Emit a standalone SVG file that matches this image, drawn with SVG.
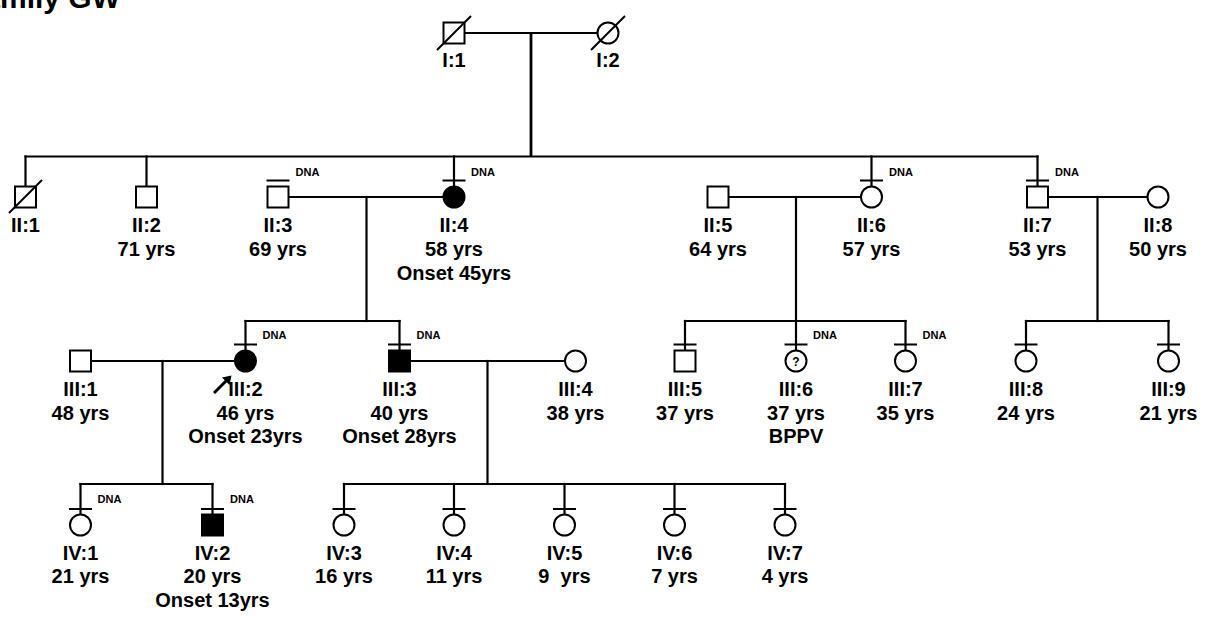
<svg xmlns="http://www.w3.org/2000/svg" width="1207" height="619" viewBox="0 0 1207 619">
<style>
  .ln { stroke:#000; stroke-width:2.2; fill:none; stroke-linecap:square; }
  .thick { stroke:#000; stroke-width:2.8; fill:none; }
  .sym { stroke:#000; stroke-width:2; fill:#fff; }
  .aff { stroke:#000; stroke-width:2; fill:#000; }
  .bar { stroke:#000; stroke-width:2; }
  .slash { stroke:#000; stroke-width:2; }
  .lbl { font-family:"Liberation Sans", Arial, sans-serif; font-weight:bold; font-size:20px; text-anchor:middle; fill:#000; white-space:pre; }
  .dna { font-family:"Liberation Sans", Arial, sans-serif; font-weight:bold; font-size:11px; fill:#000; }
  .q { font-family:"Liberation Sans", Arial, sans-serif; font-weight:bold; font-size:12px; text-anchor:middle; fill:#000; }
  .title { font-family:"Liberation Sans", Arial, sans-serif; font-weight:bold; font-size:30px; fill:#000; }
</style>
<rect width="1207" height="619" fill="#fff"/>
<text class="title" x="-35" y="8">Family GW</text>

<g id="connectors">
  <!-- Generation I -->
  <line class="ln" x1="466" y1="33" x2="597" y2="33"/>
  <line class="thick" x1="531" y1="33" x2="531" y2="156.5"/>
  <line class="ln" x1="25.5" y1="156.5" x2="1037.5" y2="156.5"/>
  <line class="ln" x1="25.5" y1="156.5" x2="25.5" y2="186"/>
  <line class="ln" x1="146.5" y1="156.5" x2="146.5" y2="186"/>
  <line class="ln" x1="454" y1="156.5" x2="454" y2="186"/>
  <line class="ln" x1="871.5" y1="156.5" x2="871.5" y2="186"/>
  <line class="ln" x1="1037.5" y1="156.5" x2="1037.5" y2="186"/>
  <!-- Generation II marriages -->
  <line class="ln" x1="289" y1="197" x2="442.5" y2="197"/>
  <line class="ln" x1="366.5" y1="197" x2="366.5" y2="321"/>
  <line class="ln" x1="245.5" y1="321" x2="399.5" y2="321"/>
  <line class="ln" x1="245.5" y1="321" x2="245.5" y2="350"/>
  <line class="ln" x1="399.5" y1="321" x2="399.5" y2="350"/>

  <line class="ln" x1="729" y1="197" x2="860" y2="197"/>
  <line class="ln" x1="796" y1="197" x2="796" y2="350"/>
  <line class="ln" x1="685" y1="321" x2="905.5" y2="321"/>
  <line class="ln" x1="685" y1="321" x2="685" y2="350"/>
  <line class="ln" x1="905.5" y1="321" x2="905.5" y2="350"/>

  <line class="ln" x1="1048" y1="197" x2="1147" y2="197"/>
  <line class="ln" x1="1097.5" y1="197" x2="1097.5" y2="321"/>
  <line class="ln" x1="1026" y1="321" x2="1168.5" y2="321"/>
  <line class="ln" x1="1026" y1="321" x2="1026" y2="350"/>
  <line class="ln" x1="1168.5" y1="321" x2="1168.5" y2="350"/>
  <!-- Generation III marriages -->
  <line class="ln" x1="91.5" y1="361" x2="234.5" y2="361"/>
  <line class="ln" x1="162.5" y1="361" x2="162.5" y2="484"/>
  <line class="ln" x1="80.5" y1="484" x2="212.5" y2="484"/>
  <line class="ln" x1="80.5" y1="484" x2="80.5" y2="514"/>
  <line class="ln" x1="212.5" y1="484" x2="212.5" y2="514"/>

  <line class="ln" x1="410.5" y1="361" x2="564.5" y2="361"/>
  <line class="ln" x1="487.5" y1="361" x2="487.5" y2="484"/>
  <line class="ln" x1="344" y1="484" x2="785" y2="484"/>
  <line class="ln" x1="344" y1="484" x2="344" y2="514"/>
  <line class="ln" x1="454" y1="484" x2="454" y2="514"/>
  <line class="ln" x1="564.5" y1="484" x2="564.5" y2="514"/>
  <line class="ln" x1="674.5" y1="484" x2="674.5" y2="514"/>
  <line class="ln" x1="785" y1="484" x2="785" y2="514"/>
</g>

<!-- Generation I -->
<g id="I-1">
  <rect class="sym" x="443.5" y="22.5" width="21" height="21"/>
  <line class="slash" x1="437" y1="50" x2="471" y2="16"/>
  <text class="lbl" x="454" y="67">I:1</text>
</g>
<g id="I-2">
  <circle class="sym" cx="608" cy="33" r="10.5"/>
  <line class="slash" x1="591" y1="50" x2="625" y2="16"/>
  <text class="lbl" x="608" y="67">I:2</text>
</g>

<!-- Generation II -->
<g id="II-1">
  <rect class="sym" x="15" y="186.5" width="21" height="21"/>
  <line class="slash" x1="9" y1="213" x2="42" y2="180"/>
  <text class="lbl" x="25.5" y="232">II:1</text>
</g>
<g id="II-2">
  <rect class="sym" x="136" y="186.5" width="21" height="21"/>
  <text class="lbl" x="146.5" y="232">II:2</text>
  <text class="lbl" x="146.5" y="256">71 yrs</text>
</g>
<g id="II-3">
  <rect class="sym" x="267.5" y="186.5" width="21" height="21"/>
  <line class="bar" x1="266.5" y1="180.5" x2="289.5" y2="180.5"/>
  <text class="dna" x="295.5" y="176">DNA</text>
  <text class="lbl" x="278" y="232">II:3</text>
  <text class="lbl" x="278" y="256">69 yrs</text>
</g>
<g id="II-4">
  <circle class="aff" cx="454" cy="197" r="10.5"/>
  <line class="bar" x1="442.5" y1="180.5" x2="465.5" y2="180.5"/>
  <text class="dna" x="471" y="176">DNA</text>
  <text class="lbl" x="454" y="232">II:4</text>
  <text class="lbl" x="454" y="256">58 yrs</text>
  <text class="lbl" x="454" y="279.5">Onset 45yrs</text>
</g>
<g id="II-5">
  <rect class="sym" x="707.5" y="186.5" width="21" height="21"/>
  <text class="lbl" x="718" y="232">II:5</text>
  <text class="lbl" x="718" y="256">64 yrs</text>
</g>
<g id="II-6">
  <circle class="sym" cx="871.5" cy="197" r="10.5"/>
  <line class="bar" x1="860" y1="180.5" x2="883" y2="180.5"/>
  <text class="dna" x="889" y="176">DNA</text>
  <text class="lbl" x="871.5" y="232">II:6</text>
  <text class="lbl" x="871.5" y="256">57 yrs</text>
</g>
<g id="II-7">
  <rect class="sym" x="1027" y="186.5" width="21" height="21"/>
  <line class="bar" x1="1026" y1="180.5" x2="1049" y2="180.5"/>
  <text class="dna" x="1055" y="176">DNA</text>
  <text class="lbl" x="1037.5" y="232">II:7</text>
  <text class="lbl" x="1037.5" y="256">53 yrs</text>
</g>
<g id="II-8">
  <circle class="sym" cx="1158" cy="197" r="10.5"/>
  <text class="lbl" x="1158" y="232">II:8</text>
  <text class="lbl" x="1158" y="256">50 yrs</text>
</g>

<!-- Generation III -->
<g id="III-1">
  <rect class="sym" x="70" y="350.5" width="21" height="21"/>
  <text class="lbl" x="80.5" y="396">III:1</text>
  <text class="lbl" x="80.5" y="419.5">48 yrs</text>
</g>
<g id="III-2">
  <circle class="aff" cx="245.5" cy="361" r="10.5"/>
  <line class="bar" x1="234" y1="344.5" x2="257" y2="344.5"/>
  <text class="dna" x="262.5" y="339">DNA</text>
  <line x1="214" y1="393" x2="226" y2="381" stroke="#000" stroke-width="3"/>
  <polygon points="231.5,375.5 229.5,385 222,377.5" fill="#000"/>
  <text class="lbl" x="245.5" y="396">III:2</text>
  <text class="lbl" x="245.5" y="419.5">46 yrs</text>
  <text class="lbl" x="245.5" y="443">Onset 23yrs</text>
</g>
<g id="III-3">
  <rect class="aff" x="389" y="350.5" width="21" height="21"/>
  <line class="bar" x1="388" y1="344.5" x2="411" y2="344.5"/>
  <text class="dna" x="416.5" y="339">DNA</text>
  <text class="lbl" x="399.5" y="396">III:3</text>
  <text class="lbl" x="399.5" y="419.5">40 yrs</text>
  <text class="lbl" x="399.5" y="443">Onset 28yrs</text>
</g>
<g id="III-4">
  <circle class="sym" cx="575.5" cy="361" r="10.5"/>
  <text class="lbl" x="575.5" y="396">III:4</text>
  <text class="lbl" x="575.5" y="419.5">38 yrs</text>
</g>
<g id="III-5">
  <rect class="sym" x="674.5" y="350.5" width="21" height="21"/>
  <line class="bar" x1="673.5" y1="344.5" x2="696.5" y2="344.5"/>
  <text class="lbl" x="685" y="396">III:5</text>
  <text class="lbl" x="685" y="419.5">37 yrs</text>
</g>
<g id="III-6">
  <circle class="sym" cx="796" cy="361" r="10.5"/>
  <line class="bar" x1="784.5" y1="344.5" x2="807.5" y2="344.5"/>
  <text class="q" x="796" y="365.5">?</text>
  <text class="dna" x="813" y="339">DNA</text>
  <text class="lbl" x="796" y="396">III:6</text>
  <text class="lbl" x="796" y="419.5">37 yrs</text>
  <text class="lbl" x="796" y="443">BPPV</text>
</g>
<g id="III-7">
  <circle class="sym" cx="905.5" cy="361" r="10.5"/>
  <line class="bar" x1="894" y1="344.5" x2="917" y2="344.5"/>
  <text class="dna" x="922.5" y="339">DNA</text>
  <text class="lbl" x="905.5" y="396">III:7</text>
  <text class="lbl" x="905.5" y="419.5">35 yrs</text>
</g>
<g id="III-8">
  <circle class="sym" cx="1026" cy="361" r="10.5"/>
  <line class="bar" x1="1014.5" y1="344.5" x2="1037.5" y2="344.5"/>
  <text class="lbl" x="1026" y="396">III:8</text>
  <text class="lbl" x="1026" y="419.5">24 yrs</text>
</g>
<g id="III-9">
  <circle class="sym" cx="1168.5" cy="361" r="10.5"/>
  <line class="bar" x1="1157" y1="344.5" x2="1180" y2="344.5"/>
  <text class="lbl" x="1168.5" y="396">III:9</text>
  <text class="lbl" x="1168.5" y="419.5">21 yrs</text>
</g>

<!-- Generation IV -->
<g id="IV-1">
  <circle class="sym" cx="80.5" cy="525" r="10.5"/>
  <line class="bar" x1="69" y1="509" x2="92" y2="509"/>
  <text class="dna" x="97.5" y="503">DNA</text>
  <text class="lbl" x="80.5" y="559.5">IV:1</text>
  <text class="lbl" x="80.5" y="583">21 yrs</text>
</g>
<g id="IV-2">
  <rect class="aff" x="202" y="514.5" width="21" height="21"/>
  <line class="bar" x1="201" y1="509" x2="224" y2="509"/>
  <text class="dna" x="230" y="503">DNA</text>
  <text class="lbl" x="212.5" y="559.5">IV:2</text>
  <text class="lbl" x="212.5" y="583">20 yrs</text>
  <text class="lbl" x="212.5" y="606.5">Onset 13yrs</text>
</g>
<g id="IV-3">
  <circle class="sym" cx="344" cy="525" r="10.5"/>
  <line class="bar" x1="332.5" y1="509" x2="355.5" y2="509"/>
  <text class="lbl" x="344" y="559.5">IV:3</text>
  <text class="lbl" x="344" y="583">16 yrs</text>
</g>
<g id="IV-4">
  <circle class="sym" cx="454" cy="525" r="10.5"/>
  <line class="bar" x1="442.5" y1="509" x2="465.5" y2="509"/>
  <text class="lbl" x="454" y="559.5">IV:4</text>
  <text class="lbl" x="454" y="583">11 yrs</text>
</g>
<g id="IV-5">
  <circle class="sym" cx="564.5" cy="525" r="10.5"/>
  <line class="bar" x1="553" y1="509" x2="576" y2="509"/>
  <text class="lbl" x="564.5" y="559.5">IV:5</text>
  <text class="lbl" x="564.5" y="583" xml:space="preserve">9  yrs</text>
</g>
<g id="IV-6">
  <circle class="sym" cx="674.5" cy="525" r="10.5"/>
  <line class="bar" x1="663" y1="509" x2="686" y2="509"/>
  <text class="lbl" x="674.5" y="559.5">IV:6</text>
  <text class="lbl" x="674.5" y="583">7 yrs</text>
</g>
<g id="IV-7">
  <circle class="sym" cx="785" cy="525" r="10.5"/>
  <line class="bar" x1="773.5" y1="509" x2="796.5" y2="509"/>
  <text class="lbl" x="785" y="559.5">IV:7</text>
  <text class="lbl" x="785" y="583">4 yrs</text>
</g>
</svg>
